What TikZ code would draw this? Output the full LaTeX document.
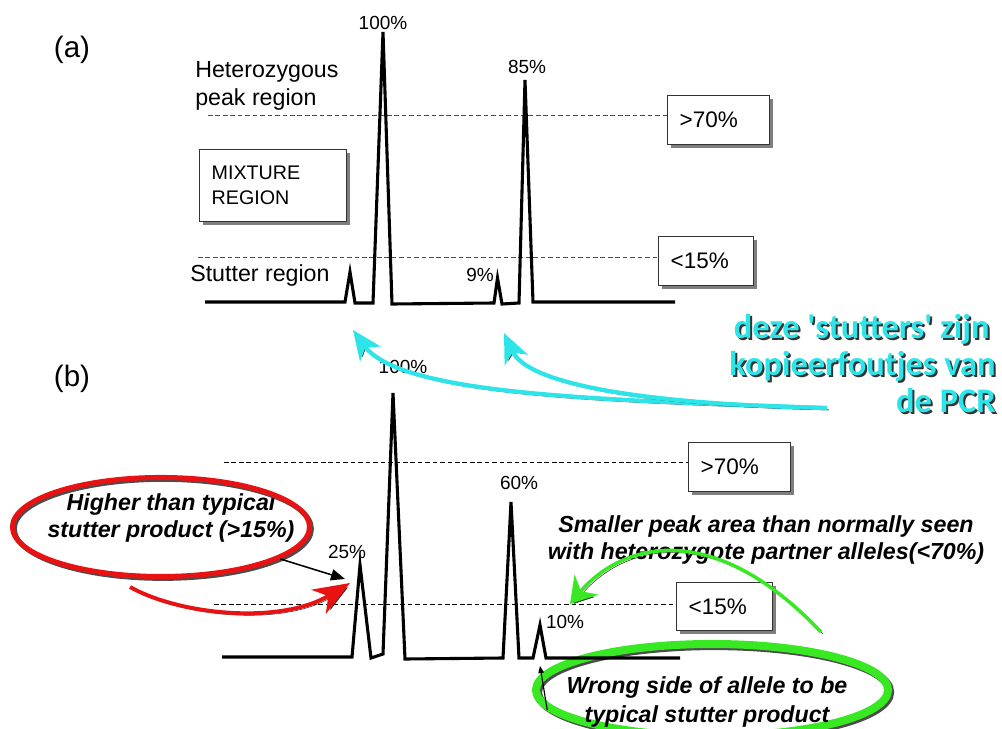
\documentclass[tikz,border=0pt]{standalone}
\usepackage{fontspec}
\setmainfont{Liberation Sans}
\newfontfamily\pcrfont{Carlito}
\usepackage{xcolor}
\usetikzlibrary{positioning, shapes.geometric, arrows.meta, shadows}
\definecolor{pcrcyan}{RGB}{45,228,232}
\definecolor{stutred}{RGB}{232,18,18}
\definecolor{wronggreen}{RGB}{55,232,35}

\begin{document}
\begin{tikzpicture}[
    x=0.025cm, y=-0.025cm,
    peaktrace/.style={line width=2.2pt, black},
    thrline/.style={densely dashed, line width=0.7pt, black!70, dash pattern=on 3.3pt off 2pt},
    thrbox/.style={draw=black!80, line width=1pt, fill=white, anchor=north west, align=left,
        minimum height=1.225cm, inner xsep=0.3cm,
        drop shadow={shadow xshift=2pt, shadow yshift=-2.5pt, fill=black, opacity=0.5},
        font=\fontsize{16}{19}\selectfont},
    panellabel/.style={font=\fontsize{21}{25}\selectfont},
    regionlabel/.style={align=left, inner sep=0pt, font=\fontsize{16.5}{19.9}\selectfont},
    pctlabel/.style={inner sep=0pt, font=\fontsize{13.5}{16}\selectfont},
    annot/.style={align=center, inner sep=0pt, font=\bfseries\itshape\fontsize{16.5}{19.5}\selectfont},
    redoval/.style={ellipse, draw=stutred, line width=3.6pt, minimum width=7.425cm, minimum height=2.475cm,
        preaction={draw=black!70, transform canvas={shift={(1.3pt,-1.3pt)}}}},
    greenoval/.style={ellipse, draw=wronggreen, line width=5.7pt, minimum width=8.8cm, minimum height=2.3cm,
        preaction={draw=black!70, transform canvas={shift={(1.5pt,-1.5pt)}}}},
    blackptr/.style={-{Triangle[length=10pt, width=8pt]}, line width=1.1pt, black},
    thinptr/.style={-{Triangle[length=5pt, width=4pt]}, line width=0.8pt, black},
    glowarrow/.style={preaction={draw=black!80, transform canvas={shift={(1.4pt,-1.4pt)}}}},
    redarrow/.style={glowarrow, draw=stutred, line width=2.8pt, -{Stealth[length=26pt, width=20pt, inset=8pt]}},
    greenarrow/.style={glowarrow, draw=wronggreen, line width=2.5pt, -{Stealth[length=18pt, width=22pt, inset=6pt]}},
    cyanarrow/.style={glowarrow, draw=pcrcyan, line width=3pt, -{Stealth[length=21pt, width=18pt, inset=6pt]}},
    pcrtext/.style={anchor=north east, align=right, inner sep=0pt, font=\pcrfont\bfseries\fontsize{24.5}{26.5}\selectfont}
]
\useasboundingbox (0,0) rectangle (1002,729);

% Panel labels
\node[panellabel] (pa) at (72,50) {(a)};
\node[panellabel] (pb) at (72,379) {(b)};

% Panel (a): threshold boxes and region labels
\node[thrbox, text width=1.95cm] (gt70a) at (667,95) {>70\%};
\node[thrbox, text width=1.775cm] (lt15a) at (658,236) {<15\%};
\node[thrbox, text width=3.075cm, minimum height=1.8cm, font=\fontsize{14}{17.8}\selectfont] (mixreg) at (199,149) {MIXTURE\\REGION};
\node[regionlabel, anchor=west] (hetreg) at (195,86) {Heterozygous\\peak region};
\node[regionlabel, anchor=west] (stutreg) at (190,276) {Stutter region};

% Panel (a): thresholds
\coordinate (hza) at (208,115);
\coordinate (lza) at (198,257);
\draw[thrline] (hza) -- (hza -| gt70a.west);
\draw[thrline] (lza) -- (lza -| lt15a.west);

% Panel (a): trace
\draw[peaktrace] (205,302) -- (345,302) -- (350,272) -- (355,303) -- (373,303) -- (383,32)
    -- (392,304) -- (494,303) -- (497.5,278) -- (502,304) -- (519,303) -- (525,80)
    -- (533,302) -- (675,302);

% Panel (a): peak labels
\node[pctlabel] (a100) at (383,23) {100\%};
\node[pctlabel] (a85) at (527,67) {85\%};
\node[pctlabel] (a9) at (480,275) {9\%};

% Panel (b): threshold boxes
\node[thrbox, text width=1.95cm] (gt70b) at (688,442) {>70\%};
\node[thrbox, text width=1.8cm, minimum height=1.2cm] (lt15b) at (676,582) {<15\%};

% Panel (b): thresholds
\coordinate (hzb) at (224,462);
\coordinate (lzb) at (214,604);
\draw[thrline, black] (hzb) -- (hzb -| gt70b.west);
\draw[thrline, black] (lzb) -- (lzb -| lt15b.west);

% Wrong side annotation
\node[greenoval] (wrongoval) at (712,690) {};
\node[annot, font=\bfseries\itshape\fontsize{16.5}{21.3}\selectfont] (wrongnote) at (707,702) {Wrong side of allele to be\\typical stutter product};

% Panel (b): trace
\draw[peaktrace] (222,657) -- (352,657) -- (360,565) -- (371,658) -- (383,654) -- (393,393)
    -- (405,659) -- (503,658) -- (511,502) -- (519,658) -- (533,658) -- (540,625)
    -- (546,658) -- (680,658);

% Panel (b): peak labels
\node[pctlabel] (b100) at (403,367) {100\%};
\node[pctlabel] (b25) at (347,552) {25\%};
\node[pctlabel] (b60) at (519,483) {60\%};
\node[pctlabel] (b10) at (565,622) {10\%};

% Higher than typical annotation
\node[annot] (hinote) at (171,518) {Higher than typical\\stutter product (>15\%)};
\node[redoval] (hioval) at (161,527) {};
\coordinate (hitip) at (345,579);
\draw[blackptr] (hioval.-15) -- (hitip);
\coordinate (redtail) at (130,587);
\coordinate (redtip) at (350,583);
\draw[redarrow] (redtail) .. controls (180,615) and (280,625) .. (redtip);

% Wrong side pointer
\coordinate (wrongtip) at (540,666);
\draw[thinptr] (wrongoval.187) -- (wrongtip);

% Smaller peak annotation
\node[annot] (smallnote) at (766,540) {Smaller peak area than normally seen\\with heterozygote partner alleles(<70\%)};
\coordinate (grtail) at (821,632);
\coordinate (grtip) at (570,604);
\draw[greenarrow] (grtail) .. controls (710,515) and (620,545) .. (grtip);

% PCR note
\node[pcrtext, text=black!80] (pcrshade) at (998,316) {deze \textquotesingle stutters\textquotesingle\ zijn\hspace*{0.15cm}\\kopieerfoutjes van\hspace*{0.15cm}\\de PCR};
\node[pcrtext, text=pcrcyan] (pcrnote) at (996,314) {deze \textquotesingle stutters\textquotesingle\ zijn\hspace*{0.15cm}\\kopieerfoutjes van\hspace*{0.15cm}\\de PCR};
\coordinate (pcrtail) at (827,408);
\coordinate (stuta) at (353,330);
\coordinate (stutb) at (504,333);
\draw[cyanarrow] (pcrtail) .. controls (600,400) and (400,395) .. (stuta);
\draw[cyanarrow] (pcrtail) .. controls (680,405) and (530,390) .. (stutb);

\end{tikzpicture}
\end{document}
